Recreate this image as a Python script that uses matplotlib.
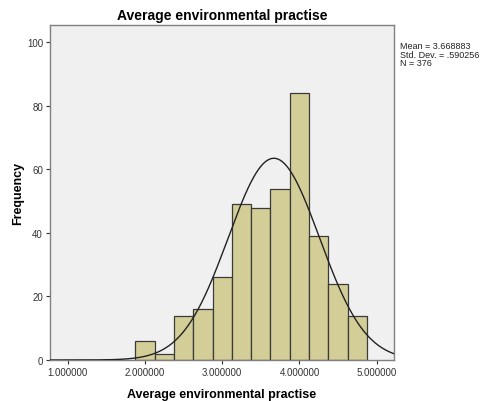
import numpy as np
import matplotlib
matplotlib.use("Agg")
import matplotlib.pyplot as plt

plt.rcParams['font.family'] = ['Liberation Sans', 'DejaVu Sans']

bin_centers = [2.0, 2.25, 2.5, 2.75, 3.0, 3.25, 3.5, 3.75, 4.0, 4.25, 4.5, 4.75]
counts = [6, 2, 14, 16, 26, 49, 48, 54, 84, 39, 24, 14]
bin_width = 0.25
mean = 3.668883
std = 0.590256
n = 376
x_ticks = [1.0, 2.0, 3.0, 4.0, 5.0]
y_ticks = [0, 20, 40, 60, 80, 100]

fig = plt.figure(figsize=(4.82, 4.02), dpi=100)
ax = fig.add_axes([50/482, 1-361/402, 344/482, 335/402])
ax.set_facecolor('#F0F0F0')

ax.bar(bin_centers, counts, width=bin_width, color='#D3CE97',
       edgecolor='#3a3a3a', linewidth=0.9, zorder=2)

xlim = (0.771, 5.224)
xs = np.linspace(xlim[0], xlim[1], 400)
pdf = n * bin_width / (std * np.sqrt(2 * np.pi)) * np.exp(-0.5 * ((xs - mean) / std) ** 2)
ax.plot(xs, pdf, color='#222222', linewidth=1.0, zorder=3)

ax.set_xlim(*xlim)
ax.set_ylim(0, 105.5)
ax.set_xticks(x_ticks)
ax.set_xticklabels([f"{v:.6f}" for v in x_ticks], fontsize=7, color='#333333')
ax.set_yticks(y_ticks)
ax.set_yticklabels([str(v) for v in y_ticks], fontsize=7, color='#333333')
ax.tick_params(axis='both', direction='out', length=3, width=0.8, color='#333333', pad=2)
for s in ax.spines.values():
    s.set_color('#808080')
    s.set_linewidth(1.0)

ax.set_title('Average environmental practise', fontsize=10, fontweight='bold', pad=4)
ax.set_xlabel('Average environmental practise', fontsize=9, fontweight='bold', labelpad=8)
ax.set_ylabel('Frequency', fontsize=9, fontweight='bold', labelpad=2)

fig.text(400/482, 1-42/402, f"Mean = {mean:.6f}\nStd. Dev. = .{int(round(std*1e6)):06d}\nN = {n}",
         fontsize=6.5, va='top', ha='left', linespacing=0.95, color='#222222')

fig.savefig('out.png', dpi=100)
